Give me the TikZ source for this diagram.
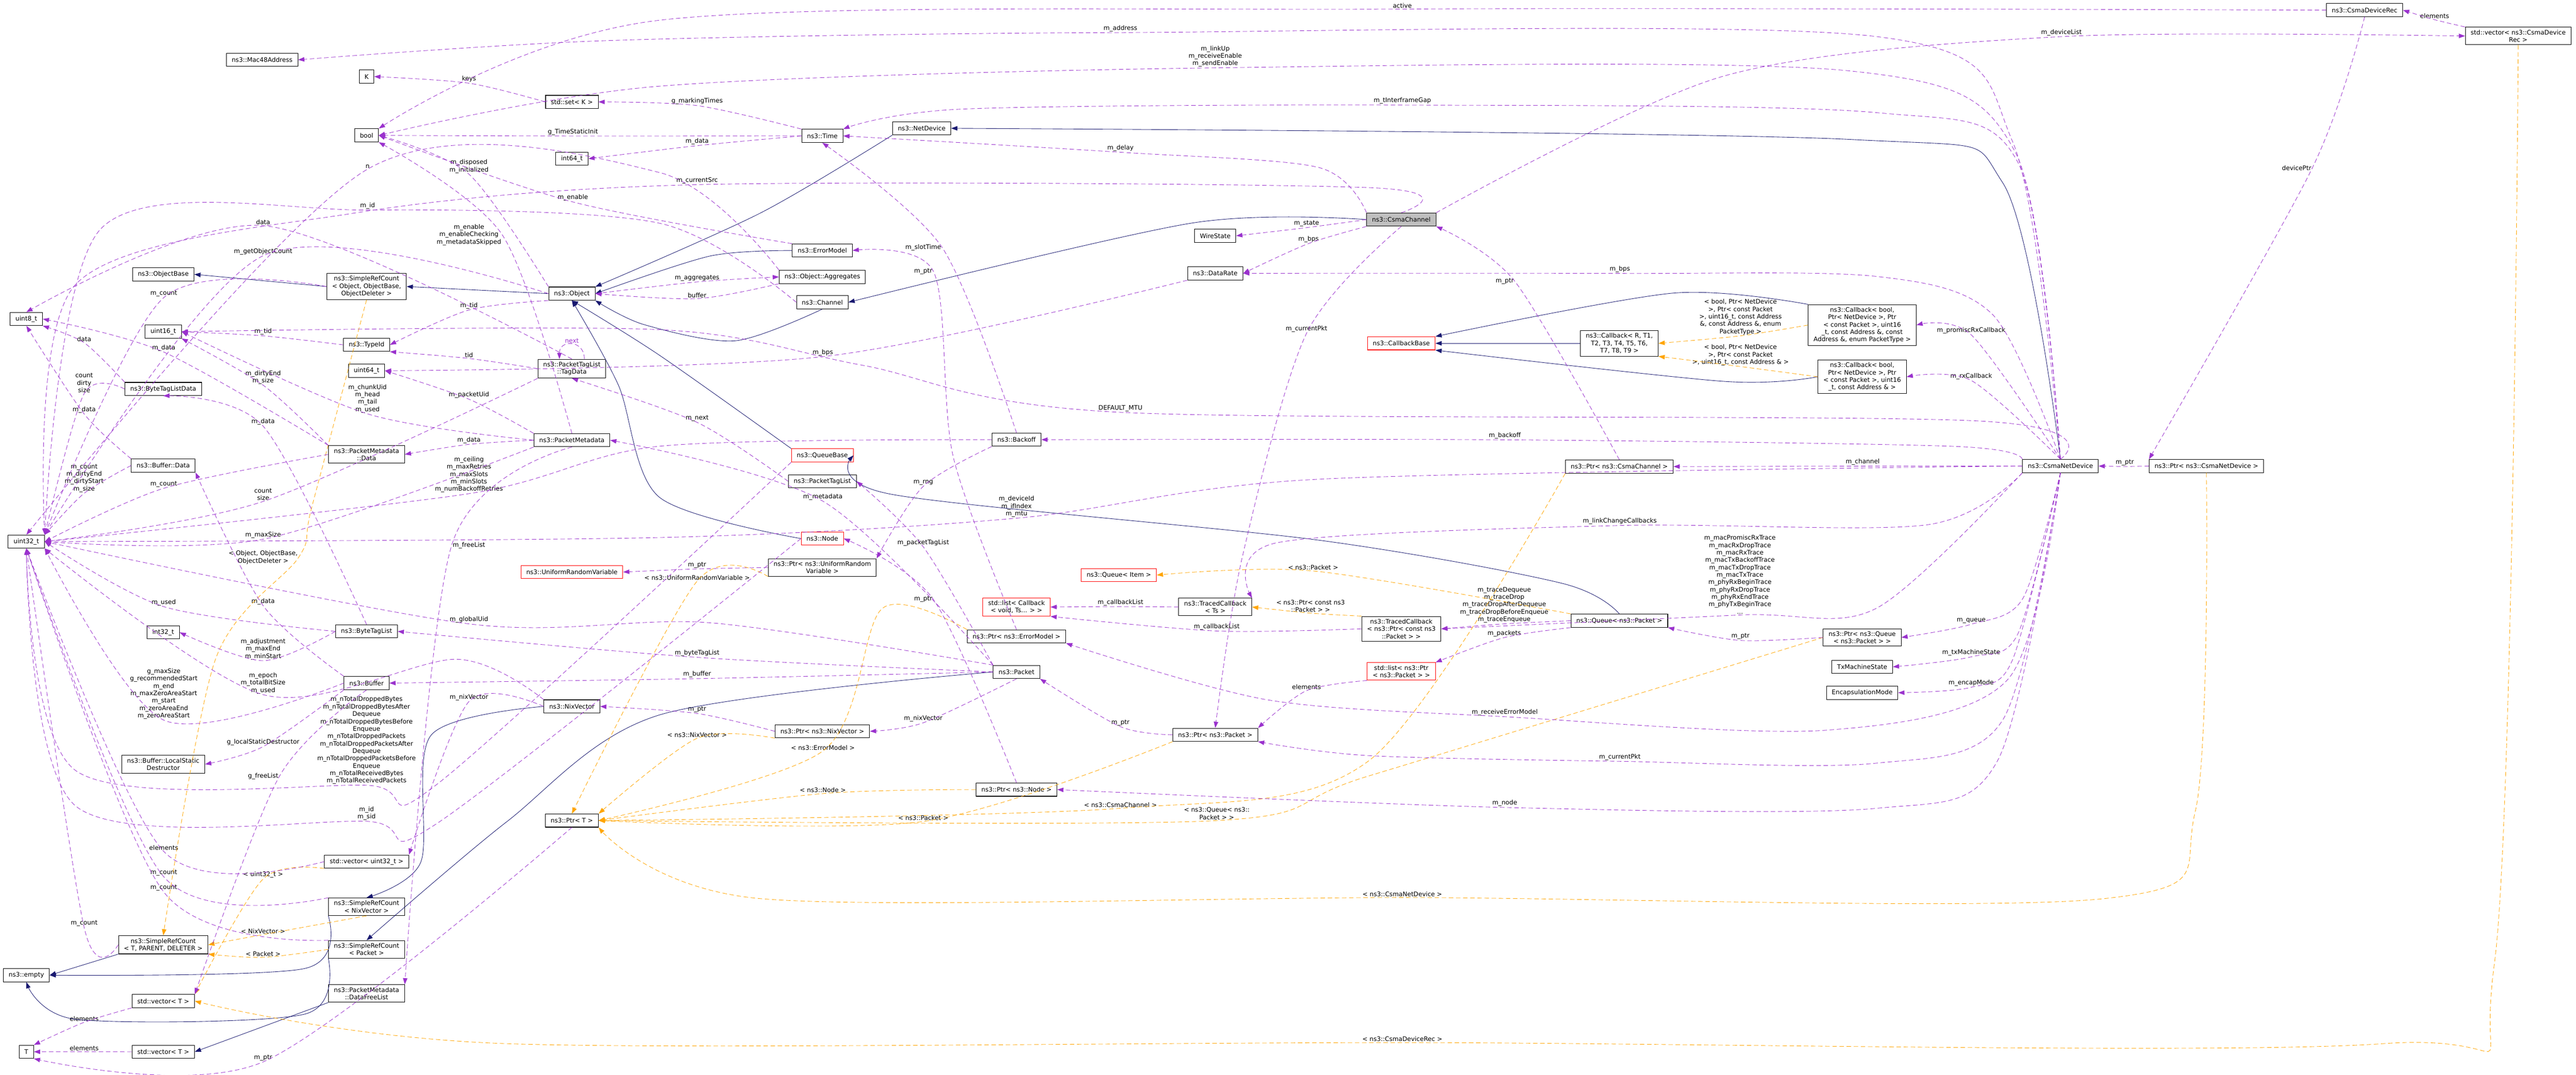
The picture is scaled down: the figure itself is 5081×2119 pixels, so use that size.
\documentclass[tikz,border=0pt]{standalone}
\usepackage{fontspec}
\setmainfont{DejaVu Sans}
\usetikzlibrary{arrows.meta}

\definecolor{usecol}{HTML}{9A32CD}
\definecolor{inhcol}{HTML}{191970}
\definecolor{tplcol}{HTML}{FFA500}

\tikzset{
  cls/.style={draw=black, fill=white, line width=0.6pt, font=\fontsize{7}{8.3}\selectfont,
    align=center, inner xsep=6pt, inner ysep=3pt, minimum height=0.52cm},
  trunc/.style={cls, draw=red},
  focus/.style={cls, fill=black!25},
  lbl/.style={font=\fontsize{7}{8.3}\selectfont, align=center, inner sep=1pt},
  use/.style={usecol, dash pattern=on 5pt off 3pt, line width=0.5pt, -{Triangle[length=7pt,width=5pt]}},
  inh/.style={inhcol, line width=0.5pt, -{Triangle[length=7pt,width=5pt]}},
  tpl/.style={tplcol, dash pattern=on 5pt off 3pt, line width=0.5pt, -{Triangle[length=7pt,width=5pt]}},
}

\begin{document}
\begin{tikzpicture}[x=0.02cm, y=-0.02cm]
  \useasboundingbox (0,0) rectangle (5081,2119);

  % classes, left columns
  \node[cls] (mac) at (517,118) {ns3::Mac48Address};
  \node[cls] (kk) at (723,151) {K};
  \node[cls] (setk) at (1128,201) {std::set< K >};
  \node[cls] (bool) at (723,267) {bool};
  \node[cls] (int64) at (1128,313) {int64\_t};
  \node[cls] (objbase) at (322,541) {ns3::ObjectBase};
  \node[cls] (srcobj) at (723,565) {ns3::SimpleRefCount\\< Object, ObjectBase,\\ObjectDeleter >};
  \node[cls] (obj) at (1128,579) {ns3::Object};
  \node[cls] (u8) at (52,629) {uint8\_t};
  \node[cls] (u16) at (322,654) {uint16\_t};
  \node[cls] (tid) at (723,680) {ns3::TypeId};
  \node[cls] (tagdata) at (1128,727) {ns3::PacketTagList\\::TagData};
  \node[cls] (u64) at (723,731) {uint64\_t};
  \node[cls] (btldata) at (322,767) {ns3::ByteTagListData};
  \node[cls] (pmeta) at (1128,868) {ns3::PacketMetadata};
  \node[cls] (pmdata) at (723,896) {ns3::PacketMetadata\\::Data};
  \node[cls] (bufdata) at (322,918) {ns3::Buffer::Data};
  \node[cls] (u32) at (52,1068) {uint32\_t};
  \node[trunc] (urv) at (1128,1128) {ns3::UniformRandomVariable};
  \node[cls] (i32) at (322,1247) {int32\_t};
  \node[cls] (btl) at (723,1245) {ns3::ByteTagList};
  \node[cls] (buf) at (723,1347) {ns3::Buffer};
  \node[cls] (nix) at (1128,1393) {ns3::NixVector};
  \node[cls] (lsd) at (322,1507) {ns3::Buffer::LocalStatic\\Destructor};
  \node[cls] (ptrt) at (1128,1618) {ns3::Ptr< T >};
  \node[cls] (vecu32) at (723,1699) {std::vector< uint32\_t >};
  \node[cls] (srcnix) at (723,1788) {ns3::SimpleRefCount\\< NixVector >};
  \node[cls] (srct) at (322,1863) {ns3::SimpleRefCount\\< T, PARENT, DELETER >};
  \node[cls] (srcpkt) at (723,1872) {ns3::SimpleRefCount\\< Packet >};
  \node[cls] (empty) at (52,1923) {ns3::empty};
  \node[cls] (freelist) at (723,1959) {ns3::PacketMetadata\\::DataFreeList};
  \node[cls] (vect1) at (322,1974) {std::vector< T >};
  \node[cls] (tt) at (52,2074) {T};
  \node[cls] (vect2) at (322,2074) {std::vector< T >};

  % classes, middle
  \node[cls] (time) at (1622,268) {ns3::Time};
  \node[cls] (netdev) at (1818,253) {ns3::NetDevice};
  \node[cls] (errm) at (1622,494) {ns3::ErrorModel};
  \node[cls] (aggr) at (1622,546) {ns3::Object::Aggregates};
  \node[cls] (chan) at (1622,596) {ns3::Channel};
  \node[cls] (wire) at (2397,465) {WireState};
  \node[cls] (drate) at (2397,539) {ns3::DataRate};
  \node[cls] (backoff) at (2005,867) {ns3::Backoff};
  \node[trunc] (qbase) at (1622,898) {ns3::QueueBase};
  \node[cls] (ptl) at (1622,949) {ns3::PacketTagList};
  \node[trunc] (node) at (1622,1062) {ns3::Node};
  \node[cls] (ptrurv) at (1622,1119) {ns3::Ptr< ns3::UniformRandom\\Variable >};
  \node[trunc] (qitem) at (2207,1134) {ns3::Queue< Item >};
  \node[trunc] (cblist) at (2005,1197) {std::list< Callback\\< void, Ts... > >};
  \node[cls] (tcts) at (2397,1197) {ns3::TracedCallback\\< Ts >};
  \node[cls] (ptrerr) at (2005,1255) {ns3::Ptr< ns3::ErrorModel >};
  \node[cls] (pkt) at (2005,1325) {ns3::Packet};
  \node[cls] (ptrnix) at (1622,1442) {ns3::Ptr< ns3::NixVector >};
  \node[cls] (ptrpkt) at (2397,1449) {ns3::Ptr< ns3::Packet >};
  \node[cls] (ptrnode) at (2005,1557) {ns3::Ptr< ns3::Node >};

  % classes, right
  \node[focus] (csmach) at (2764,433) {ns3::CsmaChannel};
  \node[trunc] (cbbase) at (2764,677) {ns3::CallbackBase};
  \node[cls] (cbr) at (3194,677) {ns3::Callback< R, T1,\\T2, T3, T4, T5, T6,\\T7, T8, T9 >};
  \node[cls] (cbenum) at (3673,641) {ns3::Callback< bool,\\Ptr< NetDevice >, Ptr\\< const Packet >, uint16\\\_t, const Address \&, const\\Address \&, enum PacketType >};
  \node[cls] (cbaddr) at (3673,743) {ns3::Callback< bool,\\Ptr< NetDevice >, Ptr\\< const Packet >, uint16\\\_t, const Address \& >};
  \node[cls] (ptrch) at (3194,920) {ns3::Ptr< ns3::CsmaChannel >};
  \node[cls] (tcpkt) at (2764,1240) {ns3::TracedCallback\\< ns3::Ptr< const ns3\\::Packet > >};
  \node[cls] (qpkt) at (3194,1224) {ns3::Queue< ns3::Packet >};
  \node[trunc] (lstpkt) at (2764,1324) {std::list< ns3::Ptr\\< ns3::Packet > >};
  \node[cls] (ptrq) at (3673,1257) {ns3::Ptr< ns3::Queue\\< ns3::Packet > >};
  \node[cls] (txm) at (3673,1315) {TxMachineState};
  \node[cls] (encap) at (3673,1366) {EncapsulationMode};
  \node[cls] (rec) at (4664,20) {ns3::CsmaDeviceRec};
  \node[cls] (vecrec) at (4967,71) {std::vector< ns3::CsmaDevice\\Rec >};
  \node[cls] (dev) at (4064,919) {ns3::CsmaNetDevice};
  \node[cls] (ptrdev) at (4352,919) {ns3::Ptr< ns3::CsmaNetDevice >};

  % connector labels
  \foreach \nm/\x/\y/\t in {
    lActive/2766/11/active, lAddr/2210/56/m\_address, lLink/2397/111/{m\_linkUp\\m\_receiveEnable\\m\_sendEnable},
    lGap/2766/199/m\_tInterframeGap, lBpsDev/3195/531/m\_bps, lPromisc/3888/652/m\_promiscRxCallback,
    lRx/3888/742/m\_rxCallback, lMtu/2210/805/DEFAULT\_MTU, lBackoff/2968/859/m\_backoff,
    lChannel/3674/911/m\_channel, lLinkCb/3195/1028/m\_linkChangeCallbacks,
    lMacTrace/3432/1133/{m\_macPromiscRxTrace\\m\_macRxDropTrace\\m\_macRxTrace\\m\_macTxBackoffTrace\\m\_macTxDropTrace\\m\_macTxTrace\\m\_phyRxBeginTrace\\m\_phyRxDropTrace\\m\_phyRxEndTrace\\m\_phyTxBeginTrace\\...},
    lQueue/3888/1224/m\_queue, lTxm/3888/1287/m\_txMachineState, lEncap/3888/1347/m\_encapMode,
    lRecvErr/2968/1405/m\_receiveErrorModel, lCurPktDev/3195/1493/m\_currentPkt, lNode/2968/1584/m\_node,
    lDevId/2005/999/{m\_deviceId\\m\_ifIndex\\m\_mtu}, lDelay/2210/292/m\_delay, lCurSrc/1375/356/m\_currentSrc,
    lState/2577/441/m\_state, lBpsCh/2581/472/m\_bps, lCurPktCh/2577/649/m\_currentPkt,
    lDevList/4066/64/m\_deviceList, lElemRec/4802/32/elements, lDevPtr/4530/331/devicePtr,
    lPtrDev/4191/912/m\_ptr, lPtrCh/2968/555/m\_ptr, lPtrQ/3433/1255/m\_ptr,
    lTrace/2967/1193/{m\_traceDequeue\\m\_traceDrop\\m\_traceDropAfterDequeue\\m\_traceDropBeforeEnqueue\\m\_traceEnqueue},
    lPackets/2967/1249/m\_packets, lCbl1/2210/1188/m\_callbackList, lCbl2/2400/1236/m\_callbackList,
    lElemPkt/2577/1355/elements, lPtrPkt/2210/1425/m\_ptr, lPtrNode/1821/1182/m\_ptr, lPtrErr/1821/535/m\_ptr,
    lPtrNix/1375/1399/m\_ptr, lPtrUrv/1375/1114/m\_ptr, lNixVecPkt/1821/1417/m\_nixVector,
    lPtlPkt/1821/1070/m\_packetTagList, lMeta/1623/980/m\_metadata, lBtlPkt/1375/1288/m\_byteTagList,
    lBufPkt/1375/1330/m\_buffer, lGlobalUid/925/1222/m\_globalUid, lSlot/1821/488/m\_slotTime, lRng/1821/952/m\_rng,
    lCeil/925/936/{m\_ceiling\\m\_maxRetries\\m\_maxSlots\\m\_minSlots\\m\_numBackoffRetries},
    lBpsRate/1623/695/m\_bps, lAggr/1375/548/m\_aggregates, lBuffer/1375/582/buffer, lN/725/328/n,
    lIdCh/725/406/m\_id, lData/519/438/data, lGetObj/519/496/m\_getObjectCount, lCountObj/323/579/m\_count,
    lDisposed/925/328/{m\_disposed\\m\_initialized}, lMark/1375/200/g\_markingTimes, lKeys/925/156/keys,
    lStatic/1130/260/g\_TimeStaticInit, lTimeData/1375/279/m\_data, lEnableErr/1130/390/m\_enable,
    lEnablePm/925/463/{m\_enable\\m\_enableChecking\\m\_metadataSkipped}, lTidObj/925/603/m\_tid,
    lTidTid/519/654/m\_tid, lTidTag/925/700/tid, lNext/1375/825/m\_next, lDataBtl/166/669/data,
    lCountBtl/166/755/{count\\dirty\\size}, lDirty/519/744/{m\_dirtyEnd\\m\_size}, lCountPmd/323/955/m\_count,
    lDataPmd/323/686/m\_data, lChunk/725/786/{m\_chunkUid\\m\_head\\m\_tail\\m\_used}, lPUid/925/779/m\_packetUid,
    lDataPm/925/868/m\_data, lFreeList/925/1075/m\_freeList, lMaxSize/519/1055/m\_maxSize,
    lCountBd/166/943/{m\_count\\m\_dirtyEnd\\m\_dirtyStart\\m\_size}, lDataBd/166/808/m\_data,
    lDataBuf/519/1186/m\_data, lUsed/323/1188/m\_used, lDataBtl2/519/832/m\_data,
    lAdj/519/1280/{m\_adjustment\\m\_maxEnd\\m\_minStart},
    lGmax/323/1368/{g\_maxSize\\g\_recommendedStart\\m\_end\\m\_maxZeroAreaStart\\m\_start\\m\_zeroAreaEnd\\m\_zeroAreaStart},
    lLsd/519/1464/g\_localStaticDestructor, lGFree/519/1531/g\_freeList,
    lEpoch/519/1347/{m\_epoch\\m\_totalBitSize\\m\_used}, lNixVec/925/1375/m\_nixVector,
    lTotal/723/1460/{m\_nTotalDroppedBytes\\m\_nTotalDroppedBytesAfter\\Dequeue\\m\_nTotalDroppedBytesBefore\\Enqueue\\m\_nTotalDroppedPackets\\m\_nTotalDroppedPacketsAfter\\Dequeue\\m\_nTotalDroppedPacketsBefore\\Enqueue\\m\_nTotalReceivedBytes\\m\_nTotalReceivedPackets},
    lIdSid/723/1604/{m\_id\\m\_sid}, lElemU32/323/1672/elements, lCountNix/323/1721/m\_count,
    lCountPkt/323/1751/m\_count, lCountT/166/1821/m\_count, lElemT1/166/2009/elements,
    lElemT2/166/2067/elements, lPtrT/519/2086/m\_ptr, lCountSize/519/975/{count\\size},
    lTObj/519/1099/{< Object, ObjectBase,\\ObjectDeleter >}, lTU32/519/1725/< uint32\_t >,
    lTNix/519/1836/< NixVector >, lTPkt/519/1881/< Packet >, lTUrv/1375/1139/< ns3::UniformRandomVariable >,
    lTNixP/1375/1449/< ns3::NixVector >, lTErr/1623/1474/< ns3::ErrorModel >, lTNode/1623/1558/< ns3::Node >,
    lTPktP/1821/1613/< ns3::Packet >, lTCh/2210/1587/< ns3::CsmaChannel >,
    lTQ/2400/1604/{< ns3::Queue< ns3::\\Packet > >}, lTDev/2766/1763/< ns3::CsmaNetDevice >,
    lTRec/2766/2049/< ns3::CsmaDeviceRec >,
    lTEnum/3433/625/{< bool, Ptr< NetDevice\\>, Ptr< const Packet\\>, uint16\_t, const Address\\\&, const Address \&, enum\\PacketType >},
    lTAddr/3433/700/{< bool, Ptr< NetDevice\\>, Ptr< const Packet\\>, uint16\_t, const Address \& >},
    lTQItem/2590/1119/< ns3::Packet >, lTTc/2585/1195/{< ns3::Ptr< const ns3\\::Packet > >}}
    {\node[lbl] (\nm) at (\x,\y) {\t};}

  % inheritance
  \draw[inh] (srcobj.west) -- (objbase.east);
  \draw[inh] (obj.west) -- (srcobj.east);
  \draw[inh] plot[smooth] coordinates {(netdev.south west) (1500,420) (obj.north east)};
  \draw[inh] plot[smooth] coordinates {(errm.west) (1400,505) (obj.east)};
  \draw[inh] plot[smooth] coordinates {(chan.south) (1450,672) (1270,640) (obj.south east)};
  \draw[inh] plot[smooth] coordinates {(csmach.west) (2350,440) (chan.east)};
  \draw[inh] plot[smooth] coordinates {(qbase.north west) (1300,700) (obj.south)};
  \draw[inh] plot[smooth] coordinates {(node.west) (1300,980) (1220,760) (obj.south)};
  \draw[inh] plot[smooth] coordinates {(dev.north) (3950,360) (3650,275) (netdev.east)};
  \draw[inh] plot[smooth] coordinates {(qpkt.north) (3080,1150) (2600,1065) (1760,975) (qbase.east)};
  \draw[inh] (cbr.west) -- (cbbase.east);
  \draw[inh] plot[smooth] coordinates {(cbenum.north west) (3300,578) (cbbase.north east)};
  \draw[inh] plot[smooth] coordinates {(cbaddr.west) (3400,752) (cbbase.south east)};
  \draw[inh] plot[smooth] coordinates {(pkt.west) (1300,1410) (1000,1620) (srcpkt.north)};
  \draw[inh] plot[smooth] coordinates {(nix.west) (850,1450) (830,1700) (srcnix.north)};
  \draw[inh] (srct.south west) -- (empty.east);
  \draw[inh] plot[smooth] coordinates {(srcnix.south west) (600,1910) (empty.east)};
  \draw[inh] plot[smooth] coordinates {(srcpkt.south west) (600,2000) (150,2010) (empty.south)};
  \draw[inh] (freelist.south west) -- (vect2.east);

  % template instances
  \draw[tpl] plot[smooth] coordinates {(srcobj.south) (615,1000) (lTObj.east) (425,1300) (srct.north)};
  \draw[tpl] plot[smooth] coordinates {(vecu32.south west) (lTU32.south) (vect1.north east)};
  \draw[tpl] plot[smooth] coordinates {(srcnix.south) (lTNix.south) (srct.east)};
  \draw[tpl] plot[smooth] coordinates {(srcpkt.west) (lTPkt.south) (srct.south east)};
  \draw[tpl] plot[smooth] coordinates {(ptrurv.south west) (lTUrv.south) (ptrt.north)};
  \draw[tpl] plot[smooth] coordinates {(ptrnix.south west) (lTNixP.south) (ptrt.north east)};
  \draw[tpl] plot[smooth] coordinates {(ptrerr.north west) (1740,1200) (lTErr.south) (ptrt.east)};
  \draw[tpl] plot[smooth] coordinates {(ptrnode.west) (lTNode.south) (ptrt.east)};
  \draw[tpl] plot[smooth] coordinates {(ptrpkt.south west) (lTPktP.south) (ptrt.east)};
  \draw[tpl] plot[smooth] coordinates {(ptrch.south west) (2700,1500) (lTCh.south) (ptrt.east)};
  \draw[tpl] plot[smooth] coordinates {(ptrq.west) (2700,1530) (lTQ.south) (ptrt.east)};
  \draw[tpl] plot[smooth] coordinates {(ptrdev.south) (4330,1600) (4150,1772) (lTDev.south) (1500,1772) (ptrt.south east)};
  \draw[tpl] plot[smooth] coordinates {(vecrec.south) (4920,1900) (4700,2058) (lTRec.south) (1000,2058) (vect1.east)};
  \draw[tpl] plot[smooth] coordinates {(cbenum.west) (lTEnum.south) (cbr.east)};
  \draw[tpl] plot[smooth] coordinates {(cbaddr.west) (lTAddr.south) (cbr.south east)};
  \draw[tpl] plot[smooth] coordinates {(qpkt.north west) (lTQItem.south) (qitem.east)};
  \draw[tpl] plot[smooth] coordinates {(tcpkt.north west) (lTTc.south) (tcts.east)};

  % members of the CsmaNetDevice
  \draw[use] plot[smooth] coordinates {(dev.north) (3970,280) (3700,72) (lAddr.south) (1200,80) (mac.east)};
  \draw[use] plot[smooth] coordinates {(dev.north) (3975,300) (3650,140) (lLink.south) (1300,170) (bool.east)};
  \draw[use] plot[smooth] coordinates {(dev.north) (3980,320) (3700,222) (lGap.south) (1900,215) (time.north east)};
  \draw[use] plot[smooth] coordinates {(dev.north) (3930,620) (3700,545) (lBpsDev.south) (drate.east)};
  \draw[use] plot[smooth] coordinates {(dev.north) (lPromisc.south) (cbenum.east)};
  \draw[use] plot[smooth] coordinates {(dev.north) (lRx.south) (cbaddr.east)};
  \draw[use] plot[smooth] coordinates {(dev.north) (3900,830) (lMtu.south) (1700,720) (1300,650) (u16.east)};
  \draw[use] plot[smooth] coordinates {(dev.north west) (3850,880) (lBackoff.south) (backoff.east)};
  \draw[use] plot[smooth] coordinates {(dev.west) (lChannel.south) (ptrch.east)};
  \draw[use] plot[smooth] coordinates {(dev.south west) (3800,1035) (lLinkCb.south) (2520,1070) (tcts.north east)};
  \draw[use] plot[smooth] coordinates {(dev.south west) (3700,1200) (lMacTrace.south) (tcpkt.east)};
  \draw[use] plot[smooth] coordinates {(dev.south) (3990,1180) (lQueue.south) (ptrq.east)};
  \draw[use] plot[smooth] coordinates {(dev.south) (3980,1250) (lTxm.south) (txm.east)};
  \draw[use] plot[smooth] coordinates {(dev.south) (3970,1300) (lEncap.south) (encap.east)};
  \draw[use] plot[smooth] coordinates {(dev.south) (3960,1340) (3600,1440) (lRecvErr.south) (2500,1380) (ptrerr.south east)};
  \draw[use] plot[smooth] coordinates {(dev.south) (3950,1420) (3700,1505) (lCurPktDev.south) (2700,1490) (ptrpkt.south east)};
  \draw[use] plot[smooth] coordinates {(dev.south) (3940,1500) (3700,1594) (lNode.south) (ptrnode.east)};
  \draw[use] plot[smooth] coordinates {(dev.west) (2600,945) (lDevId.south) (1300,1060) (u32.east)};

  % members of the CsmaChannel and its neighbours
  \draw[use] plot[smooth] coordinates {(rec.west) (lActive.south) (1300,40) (bool.north east)};
  \draw[use] plot[smooth] coordinates {(csmach.north west) (2600,330) (lDelay.south) (time.east)};
  \draw[use] plot[smooth] coordinates {(csmach.north) (2700,370) (lCurSrc.south) (700,420) (150,560) (u32.north east)};
  \draw[use] plot[smooth] coordinates {(csmach.west) (lState.south) (wire.east)};
  \draw[use] plot[smooth] coordinates {(csmach.south west) (lBpsCh.south) (drate.east)};
  \draw[use] plot[smooth] coordinates {(csmach.south) (lCurPktCh.south) (2450,1100) (ptrpkt.north)};
  \draw[use] plot[smooth] coordinates {(csmach.north east) (3400,150) (lDevList.south) (vecrec.west)};
  \draw[use] plot[smooth] coordinates {(vecrec.north west) (lElemRec.south) (rec.east)};
  \draw[use] plot[smooth] coordinates {(rec.south) (lDevPtr.east) (ptrdev.north west)};
  \draw[use] plot[smooth] coordinates {(ptrdev.west) (lPtrDev.south) (dev.east)};
  \draw[use] plot[smooth] coordinates {(ptrch.north) (lPtrCh.east) (csmach.south east)};
  \draw[use] plot[smooth] coordinates {(ptrq.west) (lPtrQ.south) (qpkt.south east)};
  \draw[use] plot[smooth] coordinates {(qpkt.west) (lTrace.south) (tcpkt.east)};
  \draw[use] plot[smooth] coordinates {(qpkt.south west) (lPackets.south) (lstpkt.north east)};
  \draw[use] plot[smooth] coordinates {(tcts.west) (lCbl1.south) (cblist.east)};
  \draw[use] plot[smooth] coordinates {(tcpkt.west) (lCbl2.south) (cblist.south east)};
  \draw[use] plot[smooth] coordinates {(lstpkt.south west) (lElemPkt.south) (ptrpkt.north east)};
  \draw[use] plot[smooth] coordinates {(ptrpkt.west) (lPtrPkt.south) (pkt.south east)};
  \draw[use] plot[smooth] coordinates {(ptrnode.north) (lPtrNode.east) (node.east)};
  \draw[use] plot[smooth] coordinates {(ptrerr.north) (1880,900) (lPtrErr.east) (errm.east)};
  \draw[use] plot[smooth] coordinates {(ptrnix.west) (lPtrNix.south) (nix.east)};
  \draw[use] plot[smooth] coordinates {(ptrurv.west) (lPtrUrv.south) (urv.east)};

  % members of the Packet and friends
  \draw[use] plot[smooth] coordinates {(pkt.south) (lNixVecPkt.south) (ptrnix.east)};
  \draw[use] plot[smooth] coordinates {(pkt.north west) (lPtlPkt.south) (ptl.east)};
  \draw[use] plot[smooth] coordinates {(pkt.north west) (lMeta.south) (pmeta.east)};
  \draw[use] plot[smooth] coordinates {(pkt.west) (lBtlPkt.south) (btl.east)};
  \draw[use] plot[smooth] coordinates {(pkt.west) (lBufPkt.south) (buf.east)};
  \draw[use] plot[smooth] coordinates {(pkt.north west) (1400,1228) (lGlobalUid.south) (u32.east)};
  \draw[use] plot[smooth] coordinates {(backoff.north) (lSlot.east) (time.south)};
  \draw[use] plot[smooth] coordinates {(backoff.south west) (lRng.south) (ptrurv.north east)};
  \draw[use] plot[smooth] coordinates {(backoff.west) (1300,880) (lCeil.south) (u32.east)};
  \draw[use] plot[smooth] coordinates {(drate.south west) (lBpsRate.south) (u64.east)};
  \draw[use] plot[smooth] coordinates {(obj.east) (lAggr.south) (aggr.west)};
  \draw[use] plot[smooth] coordinates {(aggr.south west) (lBuffer.south) (obj.east)};
  \draw[use] plot[smooth] coordinates {(aggr.north west) (1300,340) (lN.south) (u32.north)};
  \draw[use] plot[smooth] coordinates {(chan.west) (1300,440) (lIdCh.south) (200,450) (u32.north east)};
  \draw[use] plot[smooth] coordinates {(tagdata.north) (lData.south) (u8.north)};
  \draw[use] plot[smooth] coordinates {(obj.west) (lGetObj.south) (u32.north east)};
  \draw[use] plot[smooth] coordinates {(srcobj.west) (lCountObj.south) (u32.north east)};
  \draw[use] plot[smooth] coordinates {(obj.north west) (lDisposed.south) (bool.east)};
  \draw[use] plot[smooth] coordinates {(time.north west) (lMark.south) (setk.east)};
  \draw[use] plot[smooth] coordinates {(setk.west) (lKeys.south) (kk.east)};
  \draw[use] plot[smooth] coordinates {(time.west) (lStatic.south) (bool.east)};
  \draw[use] plot[smooth] coordinates {(time.west) (lTimeData.south) (int64.east)};
  \draw[use] plot[smooth] coordinates {(errm.north west) (lEnableErr.south) (bool.east)};
  \draw[use] plot[smooth] coordinates {(pmeta.north) (lEnablePm.east) (bool.south east)};
  \draw[use] plot[smooth] coordinates {(obj.south west) (lTidObj.south) (tid.east)};
  \draw[use] plot[smooth] coordinates {(tid.west) (lTidTid.south) (u16.east)};
  \draw[use] plot[smooth] coordinates {(tagdata.west) (lTidTag.south) (tid.south east)};
  \draw[use] ([xshift=14pt]tagdata.north) .. controls ([xshift=14pt,yshift=22pt]tagdata.north) and ([xshift=-14pt,yshift=22pt]tagdata.north) .. ([xshift=-14pt]tagdata.north) node[lbl, pos=0.5, above] {next};
  \draw[use] plot[smooth] coordinates {(ptl.west) (lNext.south) (tagdata.south)};
  \draw[use] plot[smooth] coordinates {(tagdata.south west) (lCountSize.south) (u32.east)};
  \draw[use] plot[smooth] coordinates {(btldata.north west) (lDataBtl.south) (u8.south east)};
  \draw[use] plot[smooth] coordinates {(btldata.west) (lCountBtl.south) (u32.north east)};
  \draw[use] plot[smooth] coordinates {(pmdata.north west) (lDirty.south) (u16.south east)};
  \draw[use] plot[smooth] coordinates {(pmdata.west) (lCountPmd.south) (u32.east)};
  \draw[use] plot[smooth] coordinates {(pmdata.north west) (lDataPmd.south) (u8.east)};
  \draw[use] plot[smooth] coordinates {(pmeta.west) (lChunk.south) (u16.east)};
  \draw[use] plot[smooth] coordinates {(pmeta.north west) (lPUid.south) (u64.east)};
  \draw[use] plot[smooth] coordinates {(pmeta.west) (lDataPm.south) (pmdata.east)};
  \draw[use] plot[smooth] coordinates {(pmeta.south) (lFreeList.west) (freelist.north east)};
  \draw[use] plot[smooth] coordinates {(pmeta.south west) (lMaxSize.south) (u32.east)};
  \draw[use] plot[smooth] coordinates {(bufdata.west) (lCountBd.south) (u32.north east)};
  \draw[use] plot[smooth] coordinates {(bufdata.north west) (lDataBd.south) (u8.south)};
  \draw[use] plot[smooth] coordinates {(buf.north west) (lDataBuf.south) (bufdata.south east)};
  \draw[use] plot[smooth] coordinates {(btl.west) (lUsed.south) (u32.east)};
  \draw[use] plot[smooth] coordinates {(btl.north) (lDataBtl2.south) (btldata.south)};
  \draw[use] plot[smooth] coordinates {(btl.west) (lAdj.south) (i32.east)};
  \draw[use] plot[smooth] coordinates {(buf.west) (lGmax.south) (u32.south east)};
  \draw[use] plot[smooth] coordinates {(buf.south west) (lLsd.south) (lsd.east)};
  \draw[use] plot[smooth] coordinates {(buf.south) (lGFree.east) (vect1.north east)};
  \draw[use] plot[smooth] coordinates {(nix.north west) (900,1300) (lEpoch.south) (u32.south east)};
  \draw[use] plot[smooth] coordinates {(nix.west) (lNixVec.south) (vecu32.north east)};
  \draw[use] plot[smooth] coordinates {(qbase.south west) (860,1548) (lTotal.south) (150,1520) (u32.south)};
  \draw[use] plot[smooth] coordinates {(node.west) (860,1625) (lIdSid.south) (150,1590) (u32.south)};
  \draw[use] plot[smooth] coordinates {(vecu32.west) (lElemU32.south) (u32.south)};
  \draw[use] plot[smooth] coordinates {(srcnix.north west) (lCountNix.south) (u32.south)};
  \draw[use] plot[smooth] coordinates {(srcpkt.north west) (lCountPkt.south) (u32.south)};
  \draw[use] plot[smooth] coordinates {(srct.west) (lCountT.south) (u32.south)};
  \draw[use] plot[smooth] coordinates {(vect1.south west) (lElemT1.south) (tt.north east)};
  \draw[use] plot[smooth] coordinates {(vect2.west) (lElemT2.south) (tt.east)};
  \draw[use] plot[smooth] coordinates {(ptrt.south) (lPtrT.south) (tt.south east)};
\end{tikzpicture}
\end{document}
